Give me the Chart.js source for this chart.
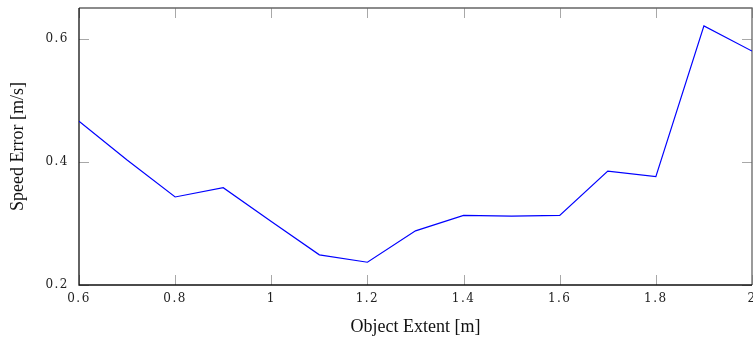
<!DOCTYPE html>
<html lang="en">
<head>
    <meta charset="UTF-8">
    <title>Speed Error vs Object Extent</title>
    <style>
        html, body { margin: 0; padding: 0; background: #fff; overflow: hidden; }
        #wrap { width: 753px; height: 338px; }
    </style>
</head>
<body>

    <div id="wrap">
        <canvas id="myChart" width="753" height="338"></canvas>
    </div>

    <script src="https://cdn.jsdelivr.net/npm/chart.js@4.4.1/dist/chart.umd.min.js"></script>

    <script>

// values
const extents = [0.6, 0.7, 0.8, 0.9, 1.0, 1.1, 1.2, 1.3, 1.4, 1.5, 1.6, 1.7, 1.8, 1.9, 2.0];
const speedErrors = [0.466, 0.403, 0.343, 0.358, 0.303, 0.249, 0.237, 0.288, 0.313, 0.312, 0.313, 0.385, 0.376, 0.621, 0.580];
const xTicks = [0.6, 0.8, 1.0, 1.2, 1.4, 1.6, 1.8, 2.0];
const yTicks = [0.2, 0.4, 0.6];

const fmt = v => String(+Number(v).toFixed(1));

// pgfplots-like frame with inward ticks on all four sides
const framePlugin = {
  id: 'frame',
  beforeDraw(chart) {
    // wider spacing in the tick labels only (like the original typesetting)
    Object.values(chart.scales).forEach(s => {
      if (s._spaced) return;
      const orig = s.drawLabels.bind(s);
      s.drawLabels = function (area) {
        const ctx = this.ctx;
        const old = ctx.letterSpacing;
        ctx.letterSpacing = '1.5px';
        orig(area);
        ctx.letterSpacing = old || '0px';
      };
      s._spaced = true;
    });
  },
  beforeDatasetsDraw(chart) {
    const { ctx, chartArea: a, scales } = chart;
    const len = 10;
    ctx.save();
    ctx.strokeStyle = '#a8a8a8';
    ctx.lineWidth = 1;
    ctx.beginPath();
    xTicks.forEach(v => {
      const px = Math.round(scales.x.getPixelForValue(v)) + 0.5;
      ctx.moveTo(px, a.bottom); ctx.lineTo(px, a.bottom - len);
      ctx.moveTo(px, a.top); ctx.lineTo(px, a.top + len);
    });
    yTicks.forEach(v => {
      const py = Math.round(scales.y.getPixelForValue(v)) + 0.5;
      ctx.moveTo(a.left, py); ctx.lineTo(a.left + len, py);
      ctx.moveTo(a.right, py); ctx.lineTo(a.right - len, py);
    });
    ctx.stroke();

    ctx.lineWidth = 1.3;
    ctx.strokeStyle = '#666';
    ctx.beginPath();
    ctx.moveTo(a.left, a.top); ctx.lineTo(a.right, a.top); ctx.lineTo(a.right, a.bottom);
    ctx.stroke();
    ctx.strokeStyle = '#111';
    ctx.beginPath();
    ctx.moveTo(a.left, a.top); ctx.lineTo(a.left, a.bottom); ctx.lineTo(a.right, a.bottom);
    ctx.stroke();
    ctx.restore();
  }
};

const config = {
  type: 'line',
  data: {
    datasets: [
      {
        label: 'Speed error',
        borderColor: '#0000ff',
        borderWidth: 1.2,
        pointRadius: 0,
        tension: 0,
        fill: false,
        data: extents.map((x, i) => ({ x: x, y: speedErrors[i] }))
      },
    ]
  },
  options: {
    responsive: false,
    animation: false,
    layout: { padding: { top: 8, right: 1, left: 0, bottom: 0 } },
    plugins: {
      legend: { display: false },
      tooltip: { enabled: false }
    },
    scales: {
      x: {
        type: 'linear',
        min: 0.6,
        max: 2.0,
        grid: { display: false, drawTicks: false },
        border: { display: false },
        afterBuildTicks: s => { s.ticks = xTicks.map(v => ({ value: v })); },
        afterFit: s => { s.height = 53; s.paddingRight = 0; s.paddingLeft = 0; },
        ticks: {
          color: '#222',
          padding: 7,
          maxRotation: 0,
          autoSkip: false,
          font: { family: 'DejaVu Serif', size: 12 },
          callback: v => fmt(v)
        },
        title: {
          display: true,
          text: 'Object Extent [m]',
          color: '#111',
          font: { family: 'Liberation Serif', size: 18 },
          padding: { top: 0, bottom: 0 }
        }
      },
      y: {
        type: 'linear',
        min: 0.2,
        max: 0.65,
        grid: { display: false, drawTicks: false },
        border: { display: false },
        afterBuildTicks: s => { s.ticks = yTicks.map(v => ({ value: v })); },
        afterFit: s => { s.width = 79; s.paddingTop = 0; s.paddingBottom = 0; },
        ticks: {
          color: '#222',
          padding: 10,
          font: { family: 'DejaVu Serif', size: 12 },
          callback: v => fmt(v)
        },
        title: {
          display: true,
          text: 'Speed Error [m/s]',
          color: '#111',
          font: { family: 'Liberation Serif', size: 18 },
          padding: { top: 7, bottom: 0 }
        }
      }
    }
  },
  plugins: [framePlugin]
};

const myChart = new Chart(
  document.getElementById('myChart'),
  config
);

    </script>

</body>
</html>
